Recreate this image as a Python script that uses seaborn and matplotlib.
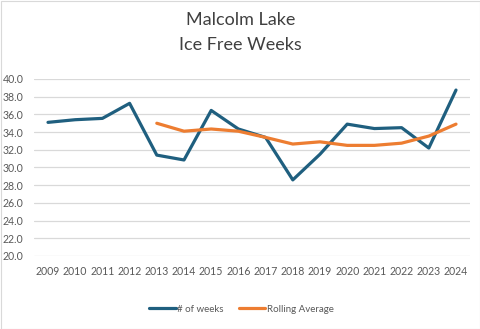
import matplotlib
matplotlib.use("Agg")
import matplotlib.pyplot as plt
import seaborn as sns
import pandas as pd
import numpy as np
from matplotlib.patches import Rectangle
from matplotlib.lines import Line2D

years = [2009, 2010, 2011, 2012, 2013, 2014, 2015, 2016, 2017, 2018, 2019, 2020, 2021, 2022, 2023, 2024]
weeks = [35.1, 35.4, 35.55, 37.25, 31.4, 30.85, 36.45, 34.35, 33.4, 28.6, 31.5, 34.9, 34.4, 34.5, 32.2, 38.75]
rolling_years = [2013, 2014, 2015, 2016, 2017, 2018, 2019, 2020, 2021, 2022, 2023, 2024]
rolling = [35.0, 34.1, 34.35, 34.1, 33.4, 32.65, 32.9, 32.5, 32.5, 32.75, 33.55, 34.9]

title_lines = ["Malcolm Lake", "Ice Free Weeks"]
series_names = ["# of weeks", "Rolling Average"]
y_ticks = [20, 22, 24, 26, 28, 30, 32, 34, 36, 38, 40]

BLUE = "#1F5F7F"
ORANGE = "#ED7D31"
TEXT = "#595959"
GRID = "#D9D9D9"

sns.set_style("white")
plt.rcParams["font.family"] = ["Lato", "DejaVu Sans"]

fig = plt.figure(figsize=(4.81, 3.29), dpi=100)
ax = fig.add_axes([34.4 / 481, 1 - 256 / 329, (469.6 - 34.4) / 481, (256 - 79) / 329])

idx = {y: i for i, y in enumerate(years)}
df1 = pd.DataFrame({"x": [idx[y] for y in years], "v": weeks})
df2 = pd.DataFrame({"x": [idx[y] for y in rolling_years], "v": rolling})

sns.lineplot(data=df1, x="x", y="v", ax=ax, color=BLUE, linewidth=2.3, zorder=3)
sns.lineplot(data=df2, x="x", y="v", ax=ax, color=ORANGE, linewidth=2.3, zorder=3)

ax.set_xlim(-0.5, len(years) - 0.5)
ax.set_ylim(20, 40)
ax.set_yticks(y_ticks)
ax.set_yticklabels([f"{t:.1f}" for t in y_ticks])
ax.set_xticks(range(len(years)))
ax.set_xticklabels([str(y) for y in years])
ax.set_xlabel("")
ax.set_ylabel("")
ax.grid(axis="y", color=GRID, linewidth=0.9)
ax.set_axisbelow(True)
for s in ax.spines.values():
    s.set_visible(False)
ax.tick_params(axis="both", length=0, labelsize=7.6, labelcolor=TEXT)
ax.tick_params(axis="y", pad=8)
ax.tick_params(axis="x", pad=7)

fig.text(0.5, 1 - 20 / 329, title_lines[0], ha="center", va="center", fontsize=13, color="#404040")
fig.text(0.5, 1 - 45 / 329, title_lines[1], ha="center", va="center", fontsize=13, color="#404040")

handles = [Line2D([0], [0], color=BLUE, linewidth=2.3), Line2D([0], [0], color=ORANGE, linewidth=2.3)]
leg = fig.legend(handles, series_names, loc="center", bbox_to_anchor=(0.502, 1 - 309 / 329), ncol=2,
                 frameon=False, fontsize=7.0, handlelength=2.7, handletextpad=0.15, columnspacing=1.6)
for t in leg.get_texts():
    t.set_color(TEXT)

fig.patches.append(Rectangle((0.5 / 481, 0.5 / 329), 1 - 1 / 481, 1 - 1 / 329, transform=fig.transFigure,
                             fill=False, edgecolor="#D9D9D9", linewidth=0.8))

fig.savefig("out.png", dpi=100)
